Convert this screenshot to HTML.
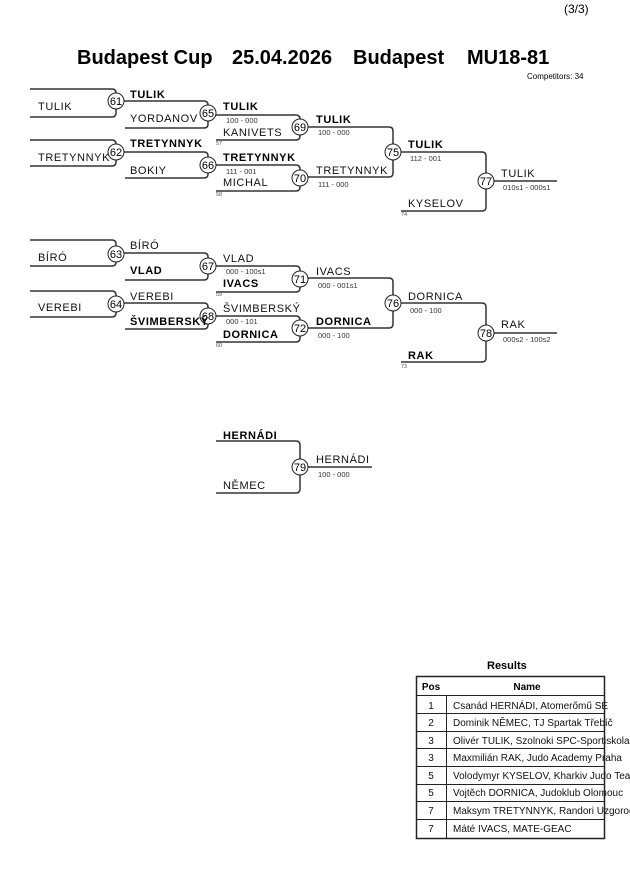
<!DOCTYPE html>
<html><head><meta charset="utf-8"><style>
html,body{margin:0;padding:0;background:#fff;}
svg{display:block;font-family:"Liberation Sans",sans-serif;}
.l{fill:none;stroke:#333;stroke-width:1.5;}
.n{font-size:11px;letter-spacing:0.6px;fill:#111;}
.b{font-size:11px;font-weight:bold;letter-spacing:0.6px;fill:#000;}
.s{font-size:7.5px;fill:#333;}
.t{font-size:5.5px;fill:#555;}
.c{fill:#fff;stroke:#222;stroke-width:1;}
.cn{font-size:11px;text-anchor:middle;fill:#000;}
</style></head><body>
<svg width="630" height="891" viewBox="0 0 630 891">
<text x="564" y="13" font-size="12">(3/3)</text>
<g font-size="20" font-weight="bold">
<text x="77" y="64">Budapest Cup</text>
<text x="232" y="64">25.04.2026</text>
<text x="353" y="64">Budapest</text>
<text x="467" y="64">MU18-81</text>
</g>
<text x="527" y="79" font-size="8">Competitors: 34</text>

<g class="l">
<path d="M30,89H112Q116,89 116,93V113Q116,117 112,117H30"/>
<path d="M124,101H204Q208,101 208,105V124Q208,128 204,128H125"/>
<path d="M30,140H112Q116,140 116,144V162Q116,166 112,166H30"/>
<path d="M124,152H204Q208,152 208,156V174Q208,178 204,178H125"/>
<path d="M216,115H296Q300,115 300,119V136Q300,140 296,140H216"/>
<path d="M216,165H296Q300,165 300,169V187Q300,191 296,191H216"/>
<path d="M308,127H389Q393,127 393,131V173Q393,177 389,177H308"/>
<path d="M401,152H482Q486,152 486,156V207Q486,211 482,211H401"/>
<path d="M494,181H557"/>

<path d="M30,240H112Q116,240 116,244V262Q116,266 112,266H30"/>
<path d="M124,253H204Q208,253 208,257V276Q208,280 204,280H125"/>
<path d="M30,291H112Q116,291 116,295V313Q116,317 112,317H30"/>
<path d="M124,303H204Q208,303 208,307V325Q208,329 204,329H125"/>
<path d="M216,266H296Q300,266 300,270V288Q300,292 296,292H216"/>
<path d="M216,316H296Q300,316 300,320V338Q300,342 296,342H216"/>
<path d="M308,278H389Q393,278 393,282V324Q393,328 389,328H308"/>
<path d="M401,303H482Q486,303 486,307V358Q486,362 482,362H401"/>
<path d="M494,333H557"/>

<path d="M216,441H296Q300,441 300,445V489Q300,493 296,493H216"/>
<path d="M308,467H372"/>
</g>

<g>
<circle class="c" cx="116" cy="101" r="8"/><text class="cn" x="116" y="105">61</text>
<circle class="c" cx="208" cy="113" r="8"/><text class="cn" x="208" y="117">65</text>
<circle class="c" cx="116" cy="152" r="8"/><text class="cn" x="116" y="156">62</text>
<circle class="c" cx="208" cy="165" r="8"/><text class="cn" x="208" y="169">66</text>
<circle class="c" cx="300" cy="127" r="8"/><text class="cn" x="300" y="131">69</text>
<circle class="c" cx="300" cy="178" r="8"/><text class="cn" x="300" y="182">70</text>
<circle class="c" cx="393" cy="152" r="8"/><text class="cn" x="393" y="156">75</text>
<circle class="c" cx="486" cy="181" r="8"/><text class="cn" x="486" y="185">77</text>
<circle class="c" cx="116" cy="254" r="8"/><text class="cn" x="116" y="258">63</text>
<circle class="c" cx="208" cy="266" r="8"/><text class="cn" x="208" y="270">67</text>
<circle class="c" cx="116" cy="304" r="8"/><text class="cn" x="116" y="308">64</text>
<circle class="c" cx="208" cy="316" r="8"/><text class="cn" x="208" y="320">68</text>
<circle class="c" cx="300" cy="279" r="8"/><text class="cn" x="300" y="283">71</text>
<circle class="c" cx="300" cy="328" r="8"/><text class="cn" x="300" y="332">72</text>
<circle class="c" cx="393" cy="303" r="8"/><text class="cn" x="393" y="307">76</text>
<circle class="c" cx="486" cy="333" r="8"/><text class="cn" x="486" y="337">78</text>
<circle class="c" cx="300" cy="467" r="8"/><text class="cn" x="300" y="471">79</text>
</g>

<text class="n" x="38" y="110">TULIK</text>
<text class="b" x="130" y="98">TULIK</text>
<text class="n" x="130" y="122">YORDANOV</text>
<text class="n" x="38" y="161">TRETYNNYK</text>
<text class="b" x="130" y="147">TRETYNNYK</text>
<text class="n" x="130" y="174">BOKIY</text>
<text class="b" x="223" y="110">TULIK</text>
<text class="s" x="226" y="123">100 - 000</text>
<text class="n" x="223" y="136">KANIVETS</text>
<text class="t" x="216" y="145">57</text>
<text class="b" x="223" y="161">TRETYNNYK</text>
<text class="s" x="226" y="174">111 - 001</text>
<text class="n" x="223" y="186">MICHAL</text>
<text class="t" x="216" y="196">58</text>
<text class="b" x="316" y="123">TULIK</text>
<text class="s" x="318" y="135">100 - 000</text>
<text class="n" x="316" y="174">TRETYNNYK</text>
<text class="s" x="318" y="187">111 - 000</text>
<text class="b" x="408" y="148">TULIK</text>
<text class="s" x="410" y="161">112 - 001</text>
<text class="n" x="408" y="207">KYSELOV</text>
<text class="t" x="401" y="216">74</text>
<text class="n" x="501" y="177">TULIK</text>
<text class="s" x="503" y="190">010s1 - 000s1</text>

<text class="n" x="38" y="261">BÍRÓ</text>
<text class="n" x="130" y="249">BÍRÓ</text>
<text class="b" x="130" y="274">VLAD</text>
<text class="n" x="38" y="311">VEREBI</text>
<text class="n" x="130" y="300">VEREBI</text>
<text class="b" x="130" y="325">ŠVIMBERSKÝ</text>
<text class="n" x="223" y="262">VLAD</text>
<text class="s" x="226" y="274">000 - 100s1</text>
<text class="b" x="223" y="287">IVACS</text>
<text class="t" x="216" y="296">59</text>
<text class="n" x="223" y="312">ŠVIMBERSKÝ</text>
<text class="s" x="226" y="324">000 - 101</text>
<text class="b" x="223" y="338">DORNICA</text>
<text class="t" x="216" y="347">60</text>
<text class="n" x="316" y="275">IVACS</text>
<text class="s" x="318" y="288">000 - 001s1</text>
<text class="b" x="316" y="325">DORNICA</text>
<text class="s" x="318" y="338">000 - 100</text>
<text class="n" x="408" y="300">DORNICA</text>
<text class="s" x="410" y="313">000 - 100</text>
<text class="b" x="408" y="359">RAK</text>
<text class="t" x="401" y="368">73</text>
<text class="n" x="501" y="328">RAK</text>
<text class="s" x="503" y="342">000s2 - 100s2</text>

<text class="b" x="223" y="439">HERNÁDI</text>
<text class="n" x="223" y="489">NĚMEC</text>
<text class="n" x="316" y="463">HERNÁDI</text>
<text class="s" x="318" y="477">100 - 000</text>

<text x="487" y="669" font-size="11" font-weight="bold">Results</text>
<g font-size="10" fill="#111">
<text x="431" y="709" text-anchor="middle">1</text><text x="453" y="709">Csanád HERNÁDI, Atomerőmű SE</text>
<text x="431" y="726" text-anchor="middle">2</text><text x="453" y="726">Dominik NĚMEC, TJ Spartak Třebíč</text>
<text x="431" y="744" text-anchor="middle">3</text><text x="453" y="744">Olivér TULIK, Szolnoki SPC-Sportiskola</text>
<text x="431" y="761" text-anchor="middle">3</text><text x="453" y="761">Maxmilián RAK, Judo Academy Praha</text>
<text x="431" y="779" text-anchor="middle">5</text><text x="453" y="779">Volodymyr KYSELOV, Kharkiv Judo Team</text>
<text x="431" y="796" text-anchor="middle">5</text><text x="453" y="796">Vojtěch DORNICA, Judoklub Olomouc</text>
<text x="431" y="814" text-anchor="middle">7</text><text x="453" y="814">Maksym TRETYNNYK, Randori Uzgorod</text>
<text x="431" y="832" text-anchor="middle">7</text><text x="453" y="832">Máté IVACS, MATE-GEAC</text>
</g>
<text x="431" y="690" font-size="10" font-weight="bold" text-anchor="middle">Pos</text>
<text x="527" y="690" font-size="10" font-weight="bold" text-anchor="middle">Name</text>
<g stroke="#222" stroke-width="1" fill="none">
<rect x="416.5" y="676.5" width="188" height="162" stroke-width="1.5"/>
<line x1="446.5" y1="695" x2="446.5" y2="838"/>
<line x1="416" y1="695.5" x2="604" y2="695.5"/>
<line x1="416" y1="713.5" x2="604" y2="713.5"/>
<line x1="416" y1="731.5" x2="604" y2="731.5"/>
<line x1="416" y1="748.5" x2="604" y2="748.5"/>
<line x1="416" y1="766.5" x2="604" y2="766.5"/>
<line x1="416" y1="784.5" x2="604" y2="784.5"/>
<line x1="416" y1="801.5" x2="604" y2="801.5"/>
<line x1="416" y1="819.5" x2="604" y2="819.5"/>
</g>
</svg>
</body></html>
